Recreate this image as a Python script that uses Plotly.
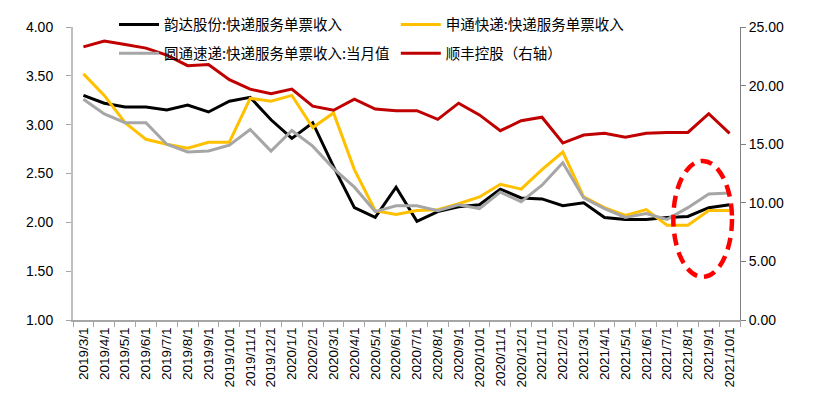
import plotly.graph_objects as go

months = ["2019/3/1","2019/4/1","2019/5/1","2019/6/1","2019/7/1","2019/8/1","2019/9/1","2019/10/1",
          "2019/11/1","2019/12/1","2020/1/1","2020/2/1","2020/3/1","2020/4/1","2020/5/1","2020/6/1",
          "2020/7/1","2020/8/1","2020/9/1","2020/10/1","2020/11/1","2020/12/1","2021/1/1","2021/2/1",
          "2021/3/1","2021/4/1","2021/5/1","2021/6/1","2021/7/1","2021/8/1","2021/9/1","2021/10/1"]

yunda = [3.30,3.22,3.18,3.18,3.15,3.20,3.13,3.24,3.28,3.05,2.86,3.02,2.57,2.15,2.05,2.36,
         2.01,2.11,2.16,2.18,2.34,2.25,2.24,2.17,2.20,2.05,2.03,2.03,2.05,2.06,2.15,2.18]
shentong = [3.52,3.30,3.02,2.85,2.80,2.76,2.82,2.82,3.27,3.24,3.30,2.97,3.12,2.54,2.12,2.08,
            2.12,2.13,2.19,2.26,2.39,2.34,2.54,2.72,2.26,2.15,2.07,2.13,1.97,1.97,2.12,2.12]
yuantong = [3.26,3.11,3.02,3.02,2.80,2.72,2.73,2.79,2.95,2.73,2.94,2.78,2.55,2.36,2.11,2.17,
            2.17,2.12,2.18,2.14,2.31,2.21,2.38,2.61,2.25,2.14,2.05,2.09,2.03,2.15,2.29,2.30]
shunfeng = [23.3,23.8,23.5,23.2,22.6,21.7,21.8,20.5,19.7,19.3,19.7,18.25,17.9,18.85,18.0,17.86,
            17.86,17.12,18.5,17.5,16.15,17.0,17.3,15.1,15.78,15.93,15.6,15.93,16.0,16.0,17.6,15.93]

names = ["韵达股份:快递服务单票收入", "申通快递:快递服务单票收入",
         "圆通速递:快递服务单票收入:当月值", "顺丰控股（右轴）"]
colors = ["#000000", "#FFC000", "#A6A6A6", "#C00000"]

fig = go.Figure()
fig.add_trace(go.Scatter(x=months, y=yunda, name=names[0], mode="lines",
                         line=dict(color=colors[0], width=3), legend="legend", legendgroup="a"))
fig.add_trace(go.Scatter(x=months, y=shentong, name=names[1], mode="lines",
                         line=dict(color=colors[1], width=3), legend="legend2", legendgroup="b"))
fig.add_trace(go.Scatter(x=months, y=yuantong, name=names[2], mode="lines",
                         line=dict(color=colors[2], width=3), legend="legend", legendgroup="c"))
fig.add_trace(go.Scatter(x=months, y=shunfeng, name=names[3], mode="lines", yaxis="y2",
                         line=dict(color=colors[3], width=3), legend="legend2", legendgroup="d"))

legfont = dict(family="Noto Sans CJK SC", size=14.5, color="#000000")
fig.update_layout(
    width=811, height=391,
    margin=dict(l=65, r=79, t=19, b=79, autoexpand=False),
    paper_bgcolor="white", plot_bgcolor="white",
    font=dict(family="Liberation Sans, Arial", size=14, color="#000000"),
    xaxis=dict(type="category", range=[-0.5, len(months) - 0.5], showgrid=False, showline=True,
               linecolor="#A6A6A6", linewidth=2,
               ticks="outside", tickson="boundaries", ticklen=5, tickcolor="#A6A6A6",
               tickangle=-90, tickfont=dict(size=13.5)),
    yaxis=dict(range=[1, 4], dtick=0.5, tickformat=".2f", showgrid=False, showline=True,
               linecolor="#BFBFBF", linewidth=2, ticks="outside", ticklen=5, tickcolor="#A6A6A6",
               zeroline=False, tickfont=dict(size=14), ticklabelstandoff=10),
    yaxis2=dict(range=[0, 25], dtick=5, tickformat=".2f", overlaying="y", side="right",
                showgrid=False, showline=True, linecolor="#808080", linewidth=1, ticks="outside",
                ticklen=5, tickcolor="#808080", zeroline=False, tickfont=dict(size=14)),
    legend=dict(x=0.0615, y=1.063, xanchor="left", yanchor="top", bgcolor="rgba(0,0,0,0)",
                font=legfont, tracegroupgap=7, itemwidth=40),
    legend2=dict(x=0.484, y=1.063, xanchor="left", yanchor="top", bgcolor="rgba(0,0,0,0)",
                 font=legfont, tracegroupgap=7, itemwidth=40),
    showlegend=True,
)

fig.add_shape(type="circle", xref="paper", yref="paper", x0=0.900, x1=0.988, y0=0.147, y1=0.543,
              line=dict(color="#FF0000", width=4.5, dash="12px,7px"))

fig.write_html("out.html")
